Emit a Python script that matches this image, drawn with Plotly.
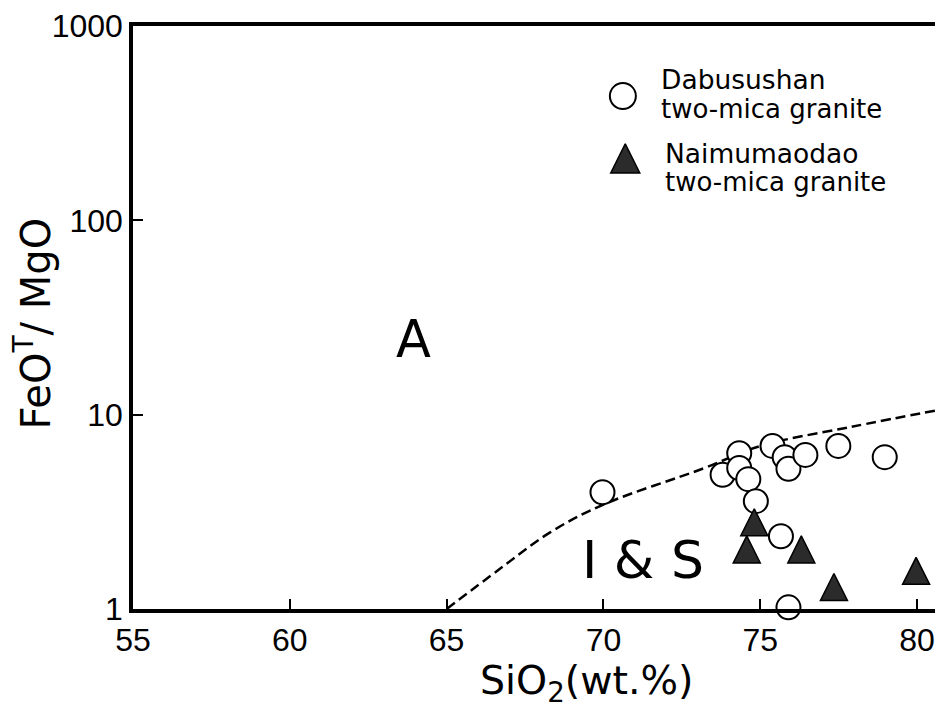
import plotly.graph_objects as go

# ---- data ----
dabusushan_sio2 = [69.97, 73.80, 74.33, 74.33, 74.62, 74.86, 75.39, 75.78, 75.90, 76.44, 77.49, 78.97, 75.66, 75.90]
dabusushan_ratio = [3.99, 4.91, 6.34, 5.32, 4.66, 3.59, 6.91, 6.04, 5.27, 6.21, 6.91, 6.05, 2.37, 1.02]

naimumaodao_sio2 = [74.81, 74.57, 76.31, 77.35, 79.97]
naimumaodao_ratio = [2.65, 1.92, 1.92, 1.23, 1.49]

boundary_sio2 = [65, 66.7, 68.3, 70, 73.2, 75, 77.9, 80.8]
boundary_ratio = [1, 1.61, 2.48, 3.45, 5.3, 6.9, 8.66, 10.67]

x_ticks = [55, 60, 65, 70, 75, 80]
y_ticks = [1, 10, 100, 1000]
y_tick_labels = ["1", "10", "100", "1000"]

series_names = ["Dabusushan", "Naimumaodao"]
series_sub = "two-mica granite"

TXT = "DejaVu Sans"
NUM = "Liberation Sans"

# page offset introduced by the default body margin of the html page
OFF = 8
W, H = 943 - OFF, 706 - OFF
L, R, T, B = 133 - OFF, 0, 24 - OFF, 97
pw, ph = W - L - R, H - T - B

def px(xp):
    return (xp - OFF - L) / pw

def py(yp):
    return 1 - (yp - OFF - T) / ph

fig = go.Figure()

# boundary line
fig.add_trace(go.Scatter(
    x=boundary_sio2, y=boundary_ratio, mode="lines",
    line=dict(color="black", width=2.5, dash="10px,5px", shape="spline"),
    showlegend=False, hoverinfo="skip"))

fig.add_trace(go.Scatter(
    x=dabusushan_sio2, y=dabusushan_ratio, mode="markers", name=series_names[0],
    marker=dict(symbol="circle", size=24, color="white",
                line=dict(color="black", width=2)),
    cliponaxis=False, showlegend=False))

fig.add_trace(go.Scatter(
    x=naimumaodao_sio2, y=naimumaodao_ratio, mode="markers", name=series_names[1],
    marker=dict(symbol="arrow-down", angle=180, standoff=18, size=27, color="#2b2b2b",
                line=dict(color="black", width=1.5)),
    cliponaxis=False, showlegend=False))

# legend symbols on an overlay axis pair (0..1 box)
fig.add_trace(go.Scatter(
    x=[px(625.3)], y=[py(94.3)], xaxis="x2", yaxis="y2", mode="markers",
    marker=dict(symbol="circle", size=26, color="white", line=dict(color="black", width=2)),
    showlegend=False, hoverinfo="skip", cliponaxis=False))
fig.add_trace(go.Scatter(
    x=[px(627.7)], y=[py(161.7)], xaxis="x2", yaxis="y2", mode="markers",
    marker=dict(symbol="arrow-down", angle=180, standoff=19.3, size=29, color="#2b2b2b",
                line=dict(color="black", width=1.5)),
    showlegend=False, hoverinfo="skip", cliponaxis=False))

ann = []
def text(s, xp, yp, size, font=TXT, xanchor="center", angle=0):
    ann.append(dict(text=s, x=px(xp), y=py(yp), xref="paper", yref="paper",
                    xanchor=xanchor, yanchor="middle", showarrow=False,
                    textangle=angle, font=dict(family=font, size=size, color="black")))

text(series_names[0], 662, 77.7, 26.5, xanchor="left")
text(series_sub, 662, 107, 26, xanchor="left")
text(series_names[1], 666, 151.7, 26.5, xanchor="left")
text(series_sub, 666, 181, 26, xanchor="left")
text("A", 414.5, 338.5, 51)
text("I &amp; S", 646, 560, 52)
text("SiO<sub>2</sub>(wt.%)", 589, 683, 39.5)
text("FeO<sup>T</sup>/ MgO", 33, 322, 40, angle=-90)

fig.update_layout(
    width=W, height=H,
    margin=dict(l=L, r=R, t=T, b=B, pad=0),
    paper_bgcolor="white", plot_bgcolor="white",
    annotations=ann,
    xaxis=dict(range=[55, 80.7], tickvals=x_ticks, ticks="inside", ticklen=10, tickwidth=2,
               tickcolor="black", showline=True, linewidth=3.5, linecolor="black", mirror=True,
               showgrid=False, zeroline=False, ticklabeloverflow="allow",
               tickfont=dict(family=NUM, size=32, color="black")),
    yaxis=dict(type="log", range=[0, 3.001], tickvals=y_ticks, ticktext=y_tick_labels,
               ticks="inside", ticklen=10, tickwidth=2, tickcolor="black",
               showline=True, linewidth=3.5, linecolor="black", mirror=True,
               showgrid=False, zeroline=False, ticklabeloverflow="allow",
               tickfont=dict(family=NUM, size=32, color="black")),
    xaxis2=dict(overlaying="x", range=[0, 1], visible=False),
    yaxis2=dict(overlaying="y", range=[0, 1], visible=False),
    showlegend=False,
)

fig.write_html("out.html")
